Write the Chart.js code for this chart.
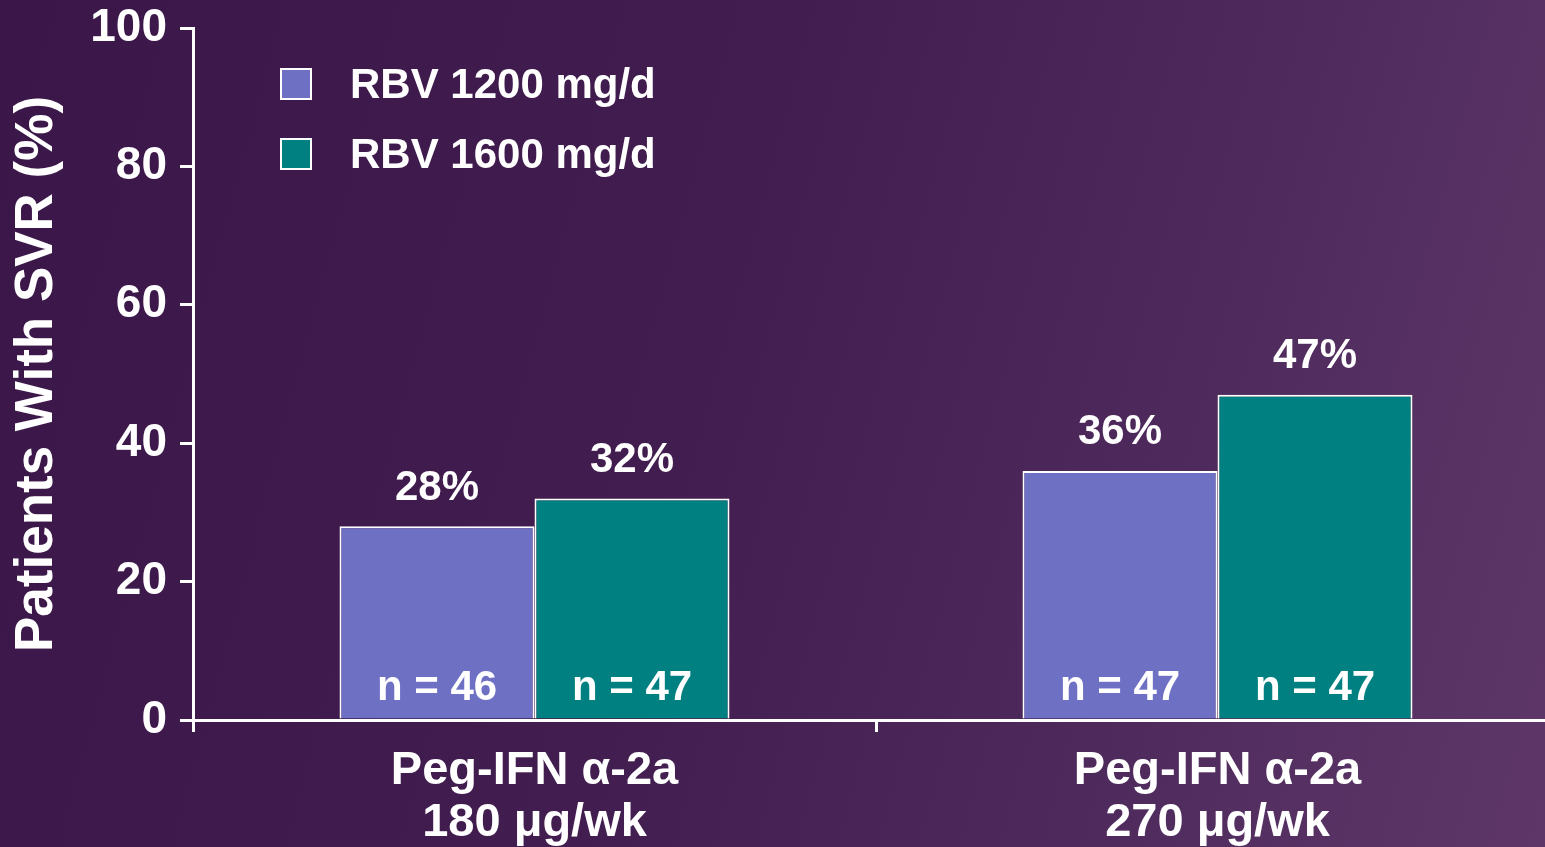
<!DOCTYPE html>
<html>
<head>
<meta charset="utf-8">
<script src="https://cdn.jsdelivr.net/npm/chart.js@4/dist/chart.umd.min.js"></script>
<style>
html, body { margin: 0; padding: 0; overflow: hidden; }
body {
  width: 1545px; height: 847px;
  background: linear-gradient(105deg, #3b1749 0%, #421d4f 45%, #4f2b5d 75%, #5e3768 100%);
}
#wrap { width: 1560px; height: 847px; }
</style>
</head>
<body>
<div id="wrap"><canvas id="myChart" width="1560" height="847"></canvas></div>
<script>
var categorias = [["Peg-IFN α-2a", "180 μg/wk"], ["Peg-IFN α-2a", "270 μg/wk"]];
var series = ["RBV 1200 mg/d", "RBV 1600 mg/d"];
var svr1200 = [28, 36];
var svr1600 = [32, 47];
var n1200 = [46, 47];
var n1600 = [47, 47];
var ticksY = [0, 20, 40, 60, 80, 100];
var colores = ['#6e70c4', '#008080'];

var fuente = '"Liberation Sans", Arial, sans-serif';

// etiquetas de valores, n y leyenda dibujadas a mano
var etiquetas = {
  id: 'etiquetas',
  afterDatasetsDraw: function(chart) {
    var ctx = chart.ctx;
    var area = chart.chartArea;
    ctx.save();
    ctx.fillStyle = '#fff';
    ctx.font = 'bold 42px ' + fuente;
    ctx.textAlign = 'center';
    ctx.textBaseline = 'middle';
    chart.data.datasets.forEach(function(ds, i) {
      var meta = chart.getDatasetMeta(i);
      meta.data.forEach(function(bar, j) {
        ctx.fillText(ds.data[j] + '%', bar.x, bar.y - 38);
        ctx.fillText('n = ' + ds.n[j], bar.x, area.bottom - 32);
      });
    });

    // leyenda
    ctx.textAlign = 'left';
    ctx.lineWidth = 2;
    ctx.strokeStyle = '#fff';
    series.forEach(function(s, i) {
      var y = area.top + 41 + i * 70;
      ctx.fillStyle = colores[i];
      ctx.fillRect(area.left + 88, y, 30, 30);
      ctx.strokeRect(area.left + 88, y, 30, 30);
      ctx.fillStyle = '#fff';
      ctx.fillText(s, area.left + 157, y + 17);
    });
    ctx.restore();
  }
};

var ctx = document.getElementById('myChart');
var myChart = new Chart(ctx, {
  type: 'bar',
  data: {
    labels: categorias,
    datasets: [{
      label: series[0],
      data: svr1200,
      n: n1200,
      backgroundColor: colores[0],
      borderColor: '#fff',
      borderWidth: 2,
      borderSkipped: 'bottom'
    }, {
      label: series[1],
      data: svr1600,
      n: n1600,
      backgroundColor: colores[1],
      borderColor: '#fff',
      borderWidth: 2,
      borderSkipped: 'bottom'
    }]
  },
  options: {
    responsive: false,
    animation: false,
    datasets: {
      bar: { barPercentage: 1, categoryPercentage: 0.571 }
    },
    layout: { padding: { top: 28, right: 1, bottom: 0, left: 0 } },
    plugins: {
      legend: { display: false },
      tooltip: { enabled: false }
    },
    scales: {
      x: {
        grid: { drawOnChartArea: false, color: '#fff', lineWidth: 3, tickLength: 12 },
        border: { color: '#fff', width: 3 },
        ticks: {
          color: '#fff',
          padding: 13,
          font: { family: fuente, size: 47, weight: 'bold', lineHeight: 1.11 }
        },
        afterFit: function(scale) { scale.height = 127; }
      },
      y: {
        min: 0,
        max: 100,
        afterBuildTicks: function(scale) {
          scale.ticks = ticksY.map(function(v) { return { value: v }; });
        },
        grid: { drawOnChartArea: false, color: '#fff', lineWidth: 3, tickLength: 13 },
        border: { color: '#fff', width: 3 },
        ticks: {
          color: '#fff',
          padding: 13,
          font: { family: fuente, size: 46, weight: 'bold' }
        },
        title: {
          display: true,
          text: 'Patients With SVR (%)',
          color: '#fff',
          padding: { top: 6, bottom: 0 },
          font: { family: fuente, size: 53, weight: 'bold', lineHeight: 1.2 }
        },
        afterFit: function(scale) {
          scale.width = 193;
          scale.paddingTop = 0;
          scale.paddingBottom = 0;
        }
      }
    }
  },
  plugins: [etiquetas]
});
</script>
</body>
</html>
